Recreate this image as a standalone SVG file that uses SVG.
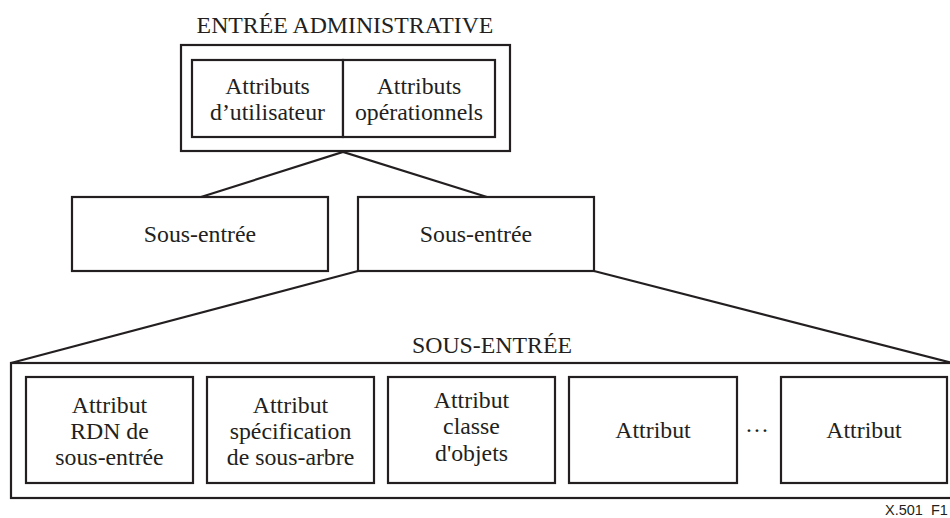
<svg xmlns="http://www.w3.org/2000/svg" width="950" height="518" viewBox="0 0 950 518">
  <style>
    .box { fill: #ffffff; stroke: #231f20; stroke-width: 2.2; }
    .wire { fill: none; stroke: #231f20; stroke-width: 2.2; }
    .lbl { font-family: "Liberation Serif", "Times New Roman", "DejaVu Serif", serif; font-size: 23.8px; fill: #231f20; text-anchor: middle; }
    .tag { font-family: "Liberation Sans", Arial, sans-serif; font-size: 14.5px; fill: #231f20; text-anchor: start; }
  </style>
  <rect width="950" height="518" fill="#ffffff"/>

  <!-- tree links -->
  <g id="connectors">
    <polyline class="wire" points="201,197 343,152 487,197"/>
    <line class="wire" x1="358" y1="271" x2="11" y2="363"/>
    <line class="wire" x1="594" y1="271" x2="952" y2="363"/>
  </g>

  <g class="lbl" font-family="Liberation Serif, Times New Roman, serif">
    <!-- administrative entry -->
    <g id="entree-administrative">
      <text x="345" y="33">ENTRÉE ADMINISTRATIVE</text>
      <rect class="box" x="181" y="45" width="329" height="106"/>
      <rect class="box" x="192" y="60" width="151" height="77"/>
      <rect class="box" x="343" y="60" width="152" height="77"/>
      <text x="267.5" y="94">Attributs</text>
      <text x="267.5" y="120">d’utilisateur</text>
      <text x="419" y="94">Attributs</text>
      <text x="419" y="120">opérationnels</text>
    </g>

    <!-- subentries -->
    <g id="sous-entree-1">
      <rect class="box" x="72" y="197" width="256" height="74"/>
      <text x="200" y="242">Sous-entrée</text>
    </g>
    <g id="sous-entree-2">
      <rect class="box" x="358" y="197" width="236" height="74"/>
      <text x="476" y="242">Sous-entrée</text>
    </g>

    <!-- expanded subentry -->
    <g id="sous-entree-detail">
      <text x="492" y="353">SOUS-ENTRÉE</text>
      <rect class="box" x="11" y="363" width="945" height="135"/>
    </g>

    <g id="attribut-rdn">
      <rect class="box" x="26" y="377" width="167" height="106"/>
      <text x="109.5" y="413">Attribut</text>
      <text x="109.5" y="439">RDN de</text>
      <text x="109.5" y="465">sous-entrée</text>
    </g>
    <g id="attribut-specification">
      <rect class="box" x="207" y="377" width="167" height="106"/>
      <text x="290.5" y="413">Attribut</text>
      <text x="290.5" y="439">spécification</text>
      <text x="290.5" y="465">de sous-arbre</text>
    </g>
    <g id="attribut-classe">
      <rect class="box" x="388" y="377" width="167" height="106"/>
      <text x="471.5" y="408">Attribut</text>
      <text x="471.5" y="434">classe</text>
      <text x="471.5" y="461">d'objets</text>
    </g>
    <g id="attribut-4">
      <rect class="box" x="569" y="377" width="168" height="106"/>
      <text x="653" y="438">Attribut</text>
    </g>
    <text x="757" y="438">···</text>
    <g id="attribut-n">
      <rect class="box" x="781" y="377" width="166" height="106"/>
      <text x="864" y="438">Attribut</text>
    </g>
  </g>

  <text class="tag" x="885" y="515" xml:space="preserve">X.501  F1</text>
</svg>
